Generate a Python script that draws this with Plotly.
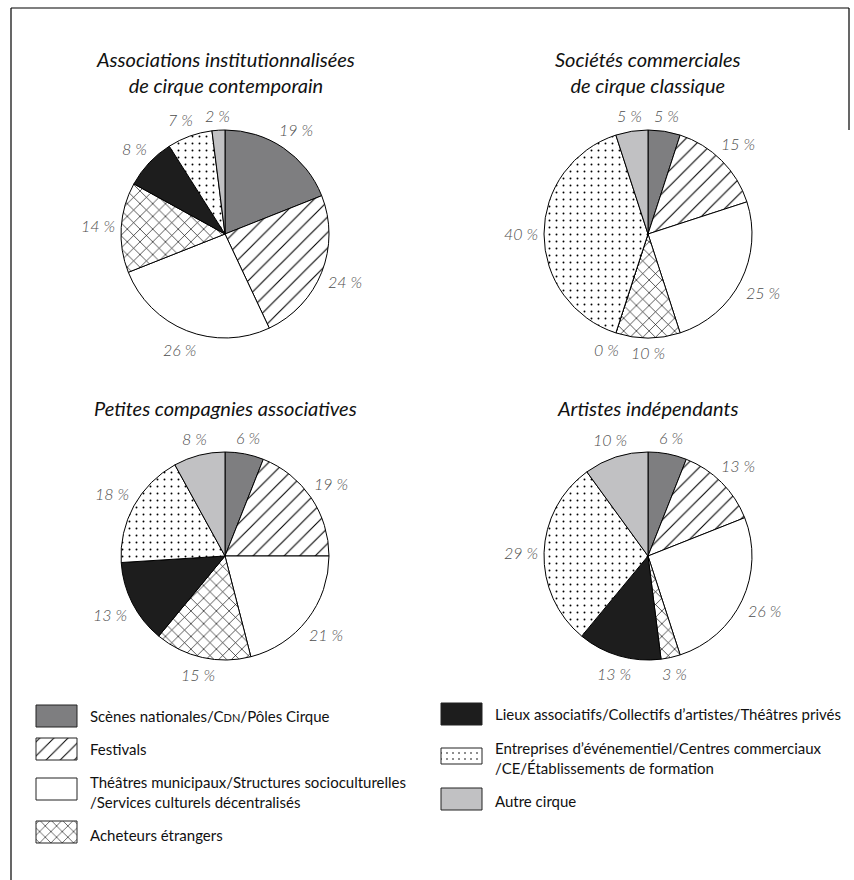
import math
import plotly.graph_objects as go

W, H = 854, 880

categories = [
    "Scènes nationales/C<span style='font-size:11px'>DN</span>/Pôles Cirque",
    "Festivals",
    "Théâtres municipaux/Structures socioculturelles<br>/Services culturels décentralisés",
    "Acheteurs étrangers",
    "Lieux associatifs/Collectifs d’artistes/Théâtres privés",
    "Entreprises d’événementiel/Centres commerciaux<br>/CE/Établissements de formation",
    "Autre cirque",
]

titles = [
    "Associations institutionnalisées<br>de cirque contemporain",
    "Sociétés commerciales<br>de cirque classique",
    "Petites compagnies associatives",
    "Artistes indépendants",
]

assoc_inst = [19, 24, 26, 14, 8, 7, 2]
soc_comm = [5, 15, 25, 10, 0, 40, 5]
petites_cies = [6, 19, 21, 15, 13, 18, 8]
artistes_indep = [6, 13, 26, 3, 13, 29, 10]
series = [assoc_inst, soc_comm, petites_cies, artistes_indep]

# styles
fill_colors = ["#7e7e80", "white", "white", "white", "#1d1d1d", "white", "#c1c1c3"]
pattern_shapes = ["", "/", "", "x", "", ".", ""]
pattern_sizes = [8, 11, 8, 9, 8, 7, 8]
pattern_solid = [0.1, 0.1, 0.1, 0.14, 0.1, 0.06, 0.1]

# layout (pixels)
centers = [(225, 234), (648, 234), (225, 556), (648, 556)]
R = 104
title_y = [(59, 84), (59, 84), (408,), (408,)]
LABEL_GAP = 6
LABEL_SIZE = 16


def px_x(x):
    return x / W


def px_y(y):
    return 1 - y / H


fig = go.Figure()

for vals, (cx, cy) in zip(series, centers):
    fig.add_trace(go.Pie(
        values=vals,
        labels=categories,
        textinfo="none",
        sort=False,
        direction="clockwise",
        rotation=0,
        showlegend=False,
        hoverinfo="skip",
        domain=dict(x=[px_x(cx - R), px_x(cx + R)], y=[px_y(cy + R), px_y(cy - R)]),
        marker=dict(
            colors=fill_colors,
            line=dict(color="black", width=1),
            pattern=dict(shape=pattern_shapes, fgcolor="black", bgcolor=fill_colors,
                         size=pattern_sizes, solidity=pattern_solid, fillmode="replace"),
        ),
    ))

    # value labels outside each slice, positioned from the cumulative shares
    total = sum(vals)
    cum = 0
    boxes = []
    for v in vals:
        mid = 2 * math.pi * (cum + v / 2) / total
        cum += v
        dx, dy = math.sin(mid), -math.cos(mid)
        txt = f"{v} %"
        w = 9 * len(str(v)) + 16
        h = 16
        d = R + LABEL_GAP + abs(dx) * w / 2 + abs(dy) * h / 2
        boxes.append([cx + dx * d, cy + dy * d, w, h, txt])
    # simple overlap resolution: push the left label further left
    for i in range(len(boxes)):
        for j in range(len(boxes)):
            if i == j:
                continue
            a, b = boxes[i], boxes[j]
            if a[0] <= b[0] and abs(a[1] - b[1]) < (a[3] + b[3]) / 2:
                overlap = (a[2] + b[2]) / 2 + 12 - (b[0] - a[0])
                if overlap > 0:
                    a[0] -= overlap
    for lx, ly, w, h, txt in boxes:
        fig.add_annotation(
            x=px_x(lx), y=px_y(ly), xref="paper", yref="paper", text=txt, showarrow=False,
            xanchor="center", yanchor="middle",
            font=dict(family="Lato", size=LABEL_SIZE, color="#4d4d4d", style="italic", weight=300),
        )

for t, (cx, cy), ty in zip(titles, centers, title_y):
    yc = sum(ty) / len(ty)
    fig.add_annotation(
        x=px_x(cx), y=px_y(yc), xref="paper", yref="paper", text=t, showarrow=False,
        font=dict(family="Lato", size=20, color="#111111", style="italic"),
        xanchor="center", yanchor="middle", align="center",
    )

# legend: patterned swatches + text
leg_x = [36, 36, 36, 36, 441, 441, 441]
leg_y = [716, 749, 789, 832, 714, 756, 799]
leg_text_y = [716, 749, 792, 835, 714, 758, 801]
sw_w = 41
sw_h = [22, 22, 22, 22, 22, 16, 22]

for i, (c, lx, ly, ty) in enumerate(zip(categories, leg_x, leg_y, leg_text_y)):
    x0, x1 = lx, lx + sw_w
    y0, y1 = ly - sw_h[i] / 2, ly + sw_h[i] / 2
    fp = dict(shape=pattern_shapes[i], fgcolor="black", bgcolor=fill_colors[i],
              size=pattern_sizes[i] - 1, solidity=pattern_solid[i], fillmode="replace")
    fig.add_trace(go.Scatter(
        x=[x0, x1, x1, x0, x0], y=[y0, y0, y1, y1, y0],
        mode="lines", fill="toself", fillcolor=fill_colors[i],
        fillpattern=fp if pattern_shapes[i] else None,
        line=dict(color="#222222", width=1),
        showlegend=False, hoverinfo="skip", xaxis="x", yaxis="y",
    ))
    fig.add_annotation(
        x=lx + sw_w + 11, y=ty, xref="x", yref="y", text=c, showarrow=False,
        xanchor="left", yanchor="middle", align="left",
        font=dict(family="Lato", size=15, color="#111111"),
    )

# frame
fig.add_shape(type="line", xref="paper", yref="paper", x0=px_x(11), x1=px_x(849), y0=px_y(8), y1=px_y(8),
              line=dict(color="black", width=1.2))
fig.add_shape(type="line", xref="paper", yref="paper", x0=px_x(11), x1=px_x(11), y0=px_y(8), y1=px_y(880),
              line=dict(color="black", width=1.2))
fig.add_shape(type="line", xref="paper", yref="paper", x0=px_x(849), x1=px_x(849), y0=px_y(8), y1=px_y(130),
              line=dict(color="black", width=1.2))

fig.update_layout(
    width=W, height=H,
    margin=dict(l=0, r=0, t=0, b=0),
    paper_bgcolor="white", plot_bgcolor="rgba(0,0,0,0)",
    xaxis=dict(range=[0, W], domain=[0, 1], visible=False, fixedrange=True),
    yaxis=dict(range=[H, 0], domain=[0, 1], visible=False, fixedrange=True),
    font=dict(family="Lato"),
)

fig.write_html("out.html", config={"displayModeBar": False},
               post_script="document.body.style.margin='0';")
